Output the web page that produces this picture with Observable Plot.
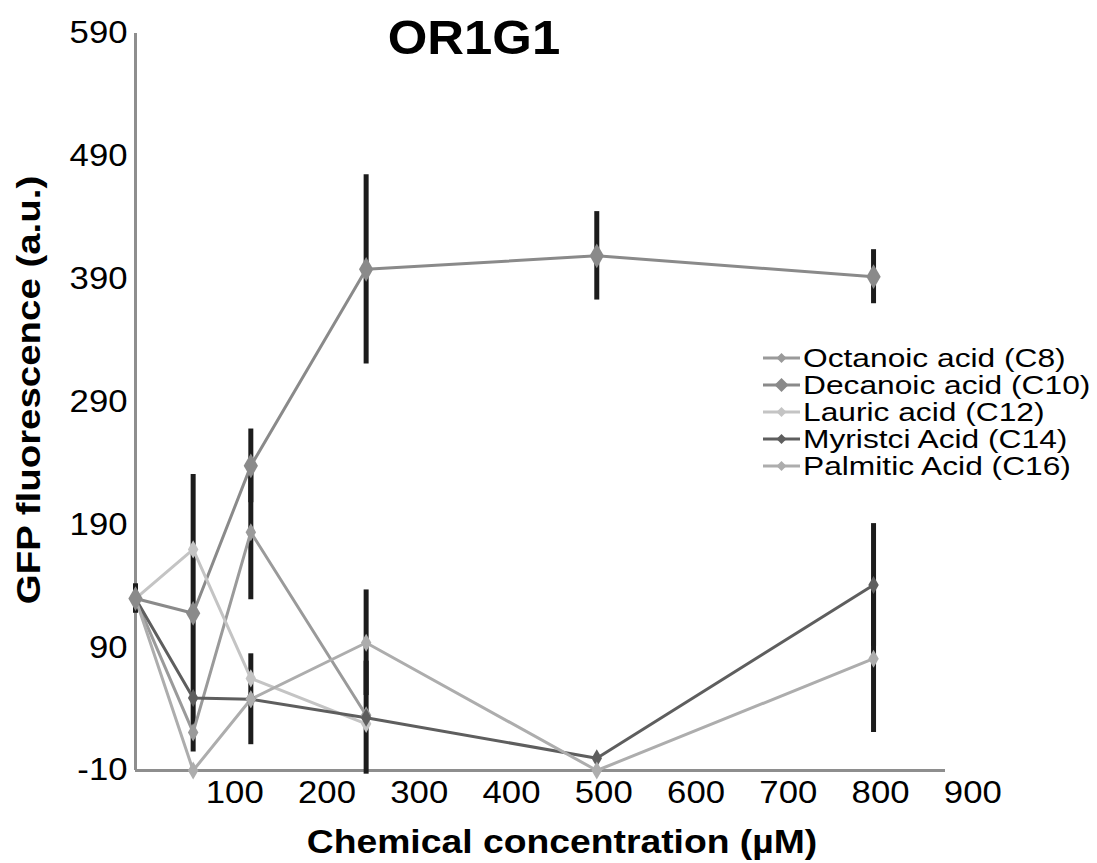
<!DOCTYPE html>
<html>
<head>
<meta charset="utf-8">
<script src="https://cdn.jsdelivr.net/npm/d3@7"></script>
<script src="https://cdn.jsdelivr.net/npm/@observablehq/plot@0.6"></script>
<style>
  body { margin: 0; background: #fff; }
  #wrap { position: relative; width: 1097px; height: 863px; font-family: "Liberation Sans", Arial, sans-serif; color: #000; overflow: hidden; }
  .t { position: absolute; white-space: nowrap; line-height: 1; }
  #title { left: 474px; top: 14px; font-size: 48px; font-weight: bold; transform: translateX(-50%) scaleX(1.06); }
  #xlabel { left: 562px; top: 825px; font-size: 33px; font-weight: bold; transform: translateX(-50%) scaleX(1.13); }
  #ylabel { left: 28px; top: 390px; font-size: 34px; font-weight: bold; transform: translate(-50%, -50%) rotate(-90deg) scaleX(1.13); }
  #legend { position: absolute; left: 763px; top: 344px; }
  .row { height: 27px; line-height: 27px; font-size: 26px; white-space: nowrap; display: flex; align-items: center; }
  .row svg { flex: none; }
  .row span { display: inline-block; line-height: 26px; transform-origin: left center; transform: scaleX(1.22); margin-left: 3px; }
</style>
</head>
<body>
<div id="wrap"></div>
<script>
// ---- data ----
const concentrations = [0, 62.5, 125, 250, 500, 800];
const seriesNames = ["Octanoic acid (C8)", "Decanoic acid (C10)", "Lauric acid (C12)", "Myristci Acid (C14)", "Palmitic Acid (C16)"];
const octanoic = [130, 21, 184, 35, null, null];
const decanoic = [130, 118, 238, 398, 409, 392];
const lauric   = [130, 170, 65, 28, null, null];
const myristic = [130, 49, 48, 33, 0, 141];
const palmitic = [130, -10, 48, 94, -10, 81];
const octanoicErr = [0, 0, 55, 0, 0, 0];
const decanoicErr = [12, 113, 30, 77, 36, 22];
const lauricErr   = [0, 0, 0, 0, 0, 0];
const myristicErr = [0, 0, 37, 46, 0, 50];
const palmiticErr = [0, 0, 0, 43, 0, 60];
const xTicks = [100, 200, 300, 400, 500, 600, 700, 800, 900];
const yTicks = [-10, 90, 190, 290, 390, 490, 590];
const seriesColors = ["#9a9a9a", "#8a8a8a", "#c4c4c4", "#5e5e5e", "#adadad"];

const values = [octanoic, decanoic, lauric, myristic, palmitic];
const errors = [octanoicErr, decanoicErr, lauricErr, myristicErr, palmiticErr];

const rows = [];
seriesNames.forEach((name, i) => {
  concentrations.forEach((c, j) => {
    const v = values[i][j];
    if (v !== null && v !== undefined) rows.push({series: name, x: c, y: v, err: errors[i][j]});
  });
});
const errRows = rows.filter(d => d.err > 0);
const big = rows.filter(d => d.series === seriesNames[1]);
const small = rows.filter(d => d.series !== seriesNames[1]);

const chart = Plot.plot({
  width: 1097,
  height: 863,
  marginLeft: 135,
  marginRight: 152,
  marginTop: 33,
  marginBottom: 93,
  style: {fontFamily: "Liberation Sans, Arial, sans-serif", background: "#fff", color: "#000"},
  x: {domain: [0, 878]},
  y: {domain: [-10, 590]},
  color: {domain: seriesNames, range: seriesColors},
  marks: [
    Plot.ruleY([-10], {stroke: "#8e8e8e", strokeWidth: 3}),
    Plot.ruleX([0], {stroke: "#8e8e8e", strokeWidth: 3}),
    Plot.ruleX(errRows, {x: "x", y1: d => d.y - d.err, y2: d => d.y + d.err, stroke: "#1c1c1c", strokeWidth: 5}),
    Plot.line(rows, {x: "x", y: "y", z: "series", stroke: "series", strokeWidth: 3}),
    Plot.dot(small, {x: "x", y: "y", fill: "series", symbol: "diamond", r: 5.5}),
    Plot.dot(big, {x: "x", y: "y", fill: "series", symbol: "diamond", r: 7.5}),
    Plot.axisY({ticks: yTicks, tickSize: 0, tickPadding: 8, fontSize: 31, tickFormat: d => String(d), label: null}),
    Plot.axisX({ticks: xTicks, tickSize: 0, tickPadding: 10, fontSize: 31, dx: 7, tickFormat: d => String(d), label: null})
  ]
});

d3.select(chart).selectAll('g[aria-label$="tick label"] text').attr("transform", function() {
  return (this.getAttribute("transform") || "") + " scale(1.12,1)";
});

const wrap = document.getElementById("wrap");
wrap.appendChild(chart);

const title = document.createElement("div");
title.className = "t"; title.id = "title"; title.textContent = "OR1G1";
wrap.appendChild(title);
const xl = document.createElement("div");
xl.className = "t"; xl.id = "xlabel"; xl.textContent = "Chemical concentration (µM)";
wrap.appendChild(xl);
const yl = document.createElement("div");
yl.className = "t"; yl.id = "ylabel"; yl.textContent = "GFP fluorescence (a.u.)";
wrap.appendChild(yl);

const legend = document.createElement("div");
legend.id = "legend";
seriesNames.forEach((name, i) => {
  const row = document.createElement("div");
  row.className = "row";
  const s = i === 1 ? 7 : 5;
  row.innerHTML = `<svg width="37" height="20" viewBox="0 0 37 20"><line x1="0" y1="10" x2="37" y2="10" stroke="${seriesColors[i]}" stroke-width="3"/><path d="M${18.5},${10 - s}L${18.5 + s},10L${18.5},${10 + s}L${18.5 - s},10Z" fill="${seriesColors[i]}"/></svg><span></span>`;
  row.querySelector("span").textContent = name;
  legend.appendChild(row);
});
wrap.appendChild(legend);
</script>
</body>
</html>
